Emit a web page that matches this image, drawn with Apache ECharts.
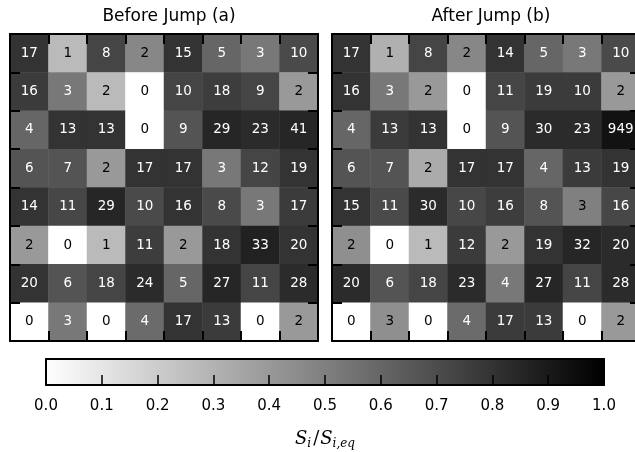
<!DOCTYPE html>
<html>
<head>
<meta charset="utf-8">
<script src="https://cdn.jsdelivr.net/npm/echarts@6/dist/echarts.min.js"></script>
<style>
  html, body { margin: 0; padding: 0; background: #fff; }
  #chart { width: 635px; height: 452px; }
</style>
</head>
<body>
<div id="chart"></div>
<script>
// Site grid: 8 x 8 cells, row 0 at the top.
const cols = [0, 1, 2, 3, 4, 5, 6, 7];
const rows = [0, 1, 2, 3, 4, 5, 6, 7];

// Occupancy counts shown in each cell, before the jump.
const countsBefore = [
  [17, 1, 8, 2, 15, 5, 3, 10],
  [16, 3, 2, 0, 10, 18, 9, 2],
  [4, 13, 13, 0, 9, 29, 23, 41],
  [6, 7, 2, 17, 17, 3, 12, 19],
  [14, 11, 29, 10, 16, 8, 3, 17],
  [2, 0, 1, 11, 2, 18, 33, 20],
  [20, 6, 18, 24, 5, 27, 11, 28],
  [0, 3, 0, 4, 17, 13, 0, 2]
];
// Relative saturation S_i / S_i,eq, before the jump.
const ratioBefore = [
  [0.80, 0.27, 0.73, 0.47, 0.80, 0.60, 0.53, 0.71],
  [0.77, 0.53, 0.27, 0.00, 0.73, 0.76, 0.73, 0.40],
  [0.60, 0.80, 0.80, 0.00, 0.67, 0.85, 0.83, 0.85],
  [0.67, 0.67, 0.40, 0.80, 0.80, 0.53, 0.73, 0.80],
  [0.80, 0.72, 0.85, 0.71, 0.80, 0.71, 0.53, 0.77],
  [0.40, 0.00, 0.27, 0.76, 0.40, 0.80, 0.87, 0.80],
  [0.80, 0.67, 0.73, 0.83, 0.60, 0.85, 0.73, 0.83],
  [0.00, 0.53, 0.00, 0.58, 0.80, 0.77, 0.00, 0.40]
];

// Occupancy counts after the jump.
const countsAfter = [
  [17, 1, 8, 2, 14, 5, 3, 10],
  [16, 3, 2, 0, 11, 19, 10, 2],
  [4, 13, 13, 0, 9, 30, 23, 949],
  [6, 7, 2, 17, 17, 4, 13, 19],
  [15, 11, 30, 10, 16, 8, 3, 16],
  [2, 0, 1, 12, 2, 19, 32, 20],
  [20, 6, 18, 23, 4, 27, 11, 28],
  [0, 3, 0, 4, 17, 13, 0, 2]
];
// Relative saturation after the jump.
const ratioAfter = [
  [0.80, 0.31, 0.73, 0.47, 0.80, 0.60, 0.53, 0.71],
  [0.80, 0.53, 0.40, 0.00, 0.73, 0.77, 0.77, 0.40],
  [0.60, 0.77, 0.80, 0.00, 0.67, 0.83, 0.83, 0.93],
  [0.67, 0.67, 0.33, 0.80, 0.80, 0.60, 0.77, 0.80],
  [0.80, 0.71, 0.83, 0.72, 0.76, 0.67, 0.50, 0.72],
  [0.44, 0.00, 0.27, 0.77, 0.40, 0.80, 0.85, 0.83],
  [0.83, 0.67, 0.73, 0.83, 0.53, 0.85, 0.73, 0.83],
  [0.00, 0.44, 0.00, 0.58, 0.77, 0.77, 0.00, 0.40]
];

const panelTitles = ['Before Jump (a)', 'After Jump (b)'];
const colorbarRange = [0, 1];

const FONT = 'DejaVu Sans';

function cellData(counts, ratio) {
  const out = [];
  rows.forEach(r => cols.forEach(c => {
    const v = ratio[r][c];
    out.push({
      value: [c, r, v, counts[r][c]],
      label: { color: v > 0.5 ? '#ffffff' : '#000000' }
    });
  }));
  return out;
}

const PANEL_TOP = 34, PANEL_W = 308, PANEL_H = 307;
const panels = [
  { left: 10, title: panelTitles[0], counts: countsBefore, ratio: ratioBefore },
  { left: 332, title: panelTitles[1], counts: countsAfter, ratio: ratioAfter }
];

const grids = [], xAxes = [], yAxes = [], series = [], titles = [];

function frameAxis(pos, gridIndex, isX) {
  const ax = {
    type: 'category', data: isX ? cols : rows, gridIndex, position: pos,
    z: 5,
    axisLine: { show: true, onZero: false, lineStyle: { color: '#000', width: 2 } },
    axisTick: { show: true, inside: true, length: 10, lineStyle: { color: '#000', width: 2 } },
    axisLabel: { show: false },
    splitLine: { show: false }
  };
  if (!isX) ax.inverse = true;
  return ax;
}

panels.forEach((p, i) => {
  // The second panel runs past the right edge of the figure.
  grids.push({
    left: p.left, top: PANEL_TOP, width: PANEL_W, height: PANEL_H,
    containLabel: false, outerBoundsMode: 'none'
  });
  xAxes.push(frameAxis('bottom', i, true), frameAxis('top', i, true));
  yAxes.push(frameAxis('left', i, false), frameAxis('right', i, false));
  titles.push({
    text: p.title, left: p.left + PANEL_W / 2, top: 3, textAlign: 'center',
    textStyle: { fontFamily: FONT, fontSize: 17, fontWeight: 'normal', color: '#000' }
  });
  series.push({
    type: 'heatmap',
    xAxisIndex: i * 2, yAxisIndex: i * 2,
    data: cellData(p.counts, p.ratio),
    itemStyle: { borderWidth: 0 },
    label: {
      show: true, fontFamily: FONT, fontSize: 13.5,
      formatter: prm => String(prm.value[3])
    },
    emphasis: { disabled: true }
  });
});

// Colorbar: its own grid with a value axis spanning the colour range.
grids.push({ left: 46, top: 359, width: 558, height: 26, outerBoundsMode: 'none' });
xAxes.push({
  type: 'value', gridIndex: 2, min: colorbarRange[0], max: colorbarRange[1], interval: 0.1,
  position: 'bottom', z: 5,
  axisLine: { show: true, onZero: false, lineStyle: { color: '#000', width: 2 } },
  axisTick: { show: true, inside: true, length: 10, lineStyle: { color: '#000', width: 1.5 } },
  axisLabel: { fontFamily: FONT, fontSize: 15, color: '#000', margin: 14,
    formatter: v => v.toFixed(1) },
  splitLine: { show: false },
  name: '{s|S}{sub|i}{sl|/}{s|S}{sub|i,eq}',
  nameLocation: 'middle', nameGap: 44,
  nameTextStyle: {
    rich: {
      s: { fontFamily: 'DejaVu Serif', fontStyle: 'italic', fontSize: 18, color: '#000' },
      sl: { fontFamily: 'DejaVu Serif', fontSize: 18, color: '#000', padding: [0, 1, 0, 2] },
      sub: { fontFamily: 'DejaVu Serif', fontStyle: 'italic', fontSize: 12, color: '#000', padding: [9, 0, 0, 0] }
    }
  }
});
yAxes.push({
  type: 'value', gridIndex: 2, min: 0, max: 1, position: 'left', z: 5,
  axisLine: { show: true, onZero: false, lineStyle: { color: '#000', width: 2 } },
  axisTick: { show: false }, axisLabel: { show: false }, splitLine: { show: false }
});
yAxes.push({
  type: 'value', gridIndex: 2, min: 0, max: 1, position: 'right', z: 5,
  axisLine: { show: true, onZero: false, lineStyle: { color: '#000', width: 2 } },
  axisTick: { show: false }, axisLabel: { show: false }, splitLine: { show: false }
});
xAxes.push({
  type: 'value', gridIndex: 2, min: 0, max: 1, position: 'top', z: 5,
  axisLine: { show: true, onZero: false, lineStyle: { color: '#000', width: 2 } },
  axisTick: { show: false }, axisLabel: { show: false }, splitLine: { show: false }
});

series.push({
  type: 'custom',
  xAxisIndex: 4, yAxisIndex: 4,
  data: [[colorbarRange[0], colorbarRange[1]]],
  silent: true,
  renderItem: (params, api) => {
    const p0 = api.coord([api.value(0), 0]);
    const p1 = api.coord([api.value(1), 1]);
    return {
      type: 'rect',
      shape: { x: p0[0], y: p1[1], width: p1[0] - p0[0], height: p0[1] - p1[1] },
      style: {
        fill: new echarts.graphic.LinearGradient(0, 0, 1, 0, [
          { offset: 0, color: '#ffffff' },
          { offset: 1, color: '#000000' }
        ])
      }
    };
  }
});

const chart = echarts.init(document.getElementById('chart'), null, { renderer: 'canvas' });
chart.setOption({
  animation: false,
  backgroundColor: '#ffffff',
  title: titles,
  grid: grids,
  xAxis: xAxes,
  yAxis: yAxes,
  visualMap: {
    show: false, type: 'continuous', dimension: 2, seriesIndex: [0, 1],
    min: colorbarRange[0], max: colorbarRange[1],
    inRange: { color: ['#ffffff', '#000000'] }
  },
  series
});
</script>
</body>
</html>
